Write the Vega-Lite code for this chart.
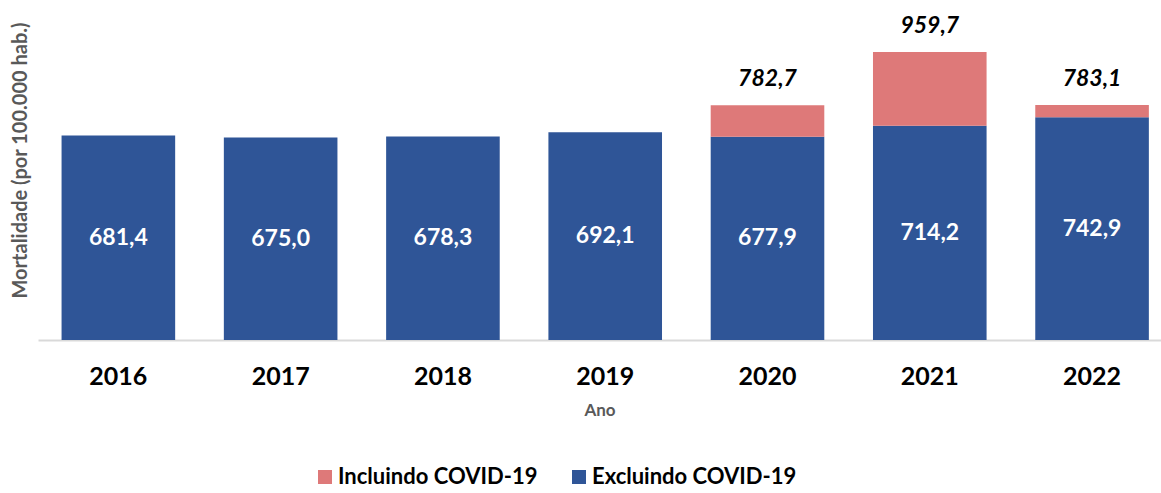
{
  "$schema": "https://vega.github.io/schema/vega-lite/v6.json",
  "width": 1123,
  "height": 330,
  "autosize": {"type": "none"},
  "padding": {"left": 38, "top": 10, "right": 0, "bottom": 153},
  "config": {
    "view": {"stroke": null},
    "font": "Lato",
    "locale": {"number": {"decimal": ",", "thousands": ".", "grouping": [3], "currency": ["R$", ""]}}
  },
  "data": {
    "values": [
      {"ano": "2016", "excl": 681.4, "total": null},
      {"ano": "2017", "excl": 675.0, "total": null},
      {"ano": "2018", "excl": 678.3, "total": null},
      {"ano": "2019", "excl": 692.1, "total": null},
      {"ano": "2020", "excl": 677.9, "total": 782.7},
      {"ano": "2021", "excl": 714.2, "total": 959.7},
      {"ano": "2022", "excl": 742.9, "total": 783.1}
    ]
  },
  "encoding": {
    "x": {
      "field": "ano",
      "type": "nominal",
      "title": "Ano",
      "scale": {"paddingInner": 0.3, "paddingOuter": 0.11, "align": 0.66},
      "axis": {
        "labelAngle": 0,
        "labelFontSize": 25,
        "labelFontWeight": "bold",
        "labelColor": "#000000",
        "ticks": false,
        "domainColor": "#d9d9d9",
        "domainWidth": 2,
        "labelPadding": 24,
        "titleFontSize": 17,
        "titleFontWeight": "bold",
        "titleColor": "#595959",
        "titlePadding": 13
      }
    }
  },
  "layer": [
    {
      "mark": {"type": "bar"},
      "encoding": {
        "y": {
          "field": "excl",
          "type": "quantitative",
          "scale": {"domain": [0, 1100], "nice": false},
          "axis": {
            "title": "Mortalidade (por 100.000 hab.)",
            "labels": false,
            "ticks": false,
            "domain": false,
            "grid": false,
            "titleFontSize": 20,
            "titleFontWeight": "bold",
            "titleColor": "#595959",
            "titlePadding": 8,
            "titleY": 150
          }
        },
        "color": {
          "datum": "Excluindo COVID-19",
          "type": "nominal",
          "scale": {"domain": ["Incluindo COVID-19", "Excluindo COVID-19"], "range": ["#DE7979", "#2F5597"]},
          "legend": {
            "title": null,
            "orient": "none",
            "legendX": 276,
            "legendY": 456,
            "direction": "horizontal",
            "symbolType": "square",
            "symbolSize": 196,
            "symbolStrokeWidth": 0,
            "labelFontSize": 22,
            "labelFontWeight": "bold",
            "labelColor": "#000000",
            "labelLimit": 400,
            "labelOffset": 2,
            "columnPadding": 30,
            "padding": 0
          }
        }
      }
    },
    {
      "transform": [{"filter": "datum.total != null"}],
      "mark": {"type": "bar"},
      "encoding": {
        "y": {"field": "total", "type": "quantitative", "scale": {"domain": [0, 1100], "nice": false}, "axis": null},
        "y2": {"field": "excl"},
        "color": {"datum": "Incluindo COVID-19", "type": "nominal"}
      }
    },
    {
      "mark": {"type": "text", "color": "#ffffff", "fontSize": 23, "fontWeight": "bold", "baseline": "middle"},
      "encoding": {
        "y": {"field": "excl", "type": "quantitative", "scale": {"domain": [0, 2200], "nice": false}, "axis": null},
        "text": {"field": "excl", "type": "quantitative", "format": ".1f"}
      }
    },
    {
      "transform": [{"filter": "datum.total != null"}],
      "mark": {"type": "text", "color": "#000000", "fontSize": 23, "fontWeight": "bold", "fontStyle": "italic", "baseline": "alphabetic", "dy": -19},
      "encoding": {
        "y": {"field": "total", "type": "quantitative", "scale": {"domain": [0, 1100], "nice": false}, "axis": null},
        "text": {"field": "total", "type": "quantitative", "format": ".1f"}
      }
    }
  ],
  "resolve": {"scale": {"y": "independent"}}
}
